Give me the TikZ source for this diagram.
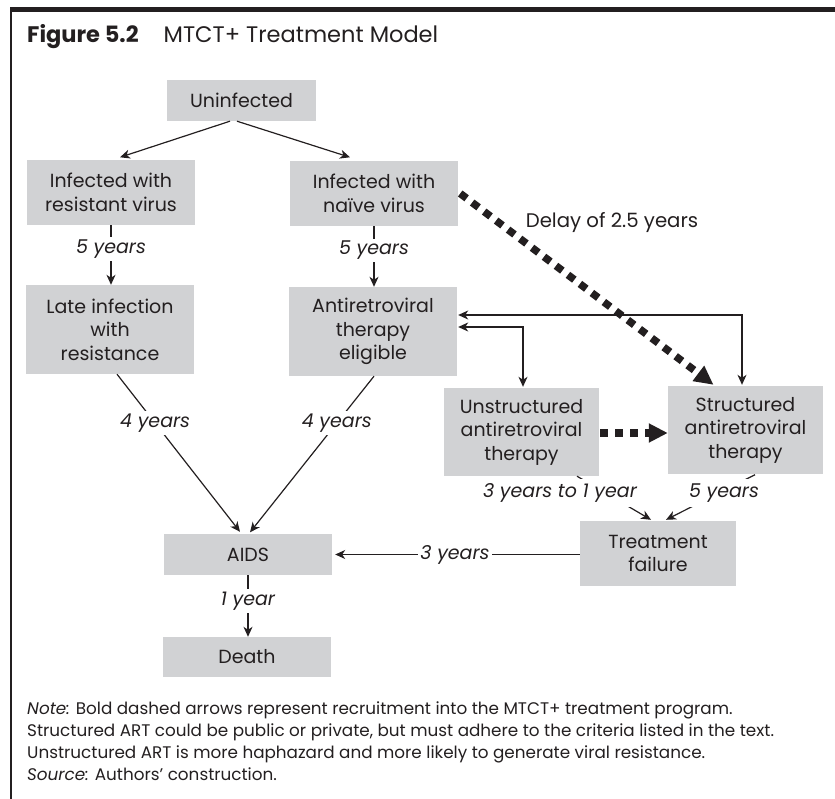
\documentclass[tikz,border=0pt]{standalone}
\usepackage{fontspec}
\setmainfont{Poppins}
\usetikzlibrary{arrows.meta,calc}
\definecolor{boxgray}{HTML}{D1D2D4}
\definecolor{ink}{HTML}{231F20}
\begin{document}
\begin{tikzpicture}[x=1pt,y=-1pt,
  box/.style={fill=boxgray, inner sep=0pt, align=center, text=ink,
    font=\fontsize{19}{23.5}\selectfont},
  arr/.style={draw=ink, line width=1.2pt, -{Stealth[length=10pt,width=9pt,inset=3pt]}},
  biarr/.style={draw=ink, line width=1.2pt, {Stealth[length=10pt,width=9pt,inset=3pt]}-{Stealth[length=10pt,width=9pt,inset=3pt]}},
  lbl/.style={fill=white, inner sep=2.5pt, text=ink, font=\fontsize{19}{21}\selectfont\itshape},
  bolddash/.style={draw=ink, line width=7.5pt, dash pattern=on 8pt off 7pt,
    -{Triangle[length=19pt,width=18pt]}},
  notetext/.style={anchor=base west, inner sep=0pt, text=ink, font=\fontsize{16.8}{22}\selectfont}
]
\useasboundingbox (0,0) rectangle (835,799);
% frame
\fill[ink] (10,7) rectangle (835,12.5);
\draw[ink, line width=1.3pt] (11,12) -- (11,799);
% title
\node[anchor=base west, inner sep=0pt, text=ink, font=\fontsize{22.5}{25}\selectfont] (title) at (27,43)
  {\textbf{Figure 5.2}\hspace{25pt}MTCT+ Treatment Model};
% boxes
\node[box, minimum width=149pt, minimum height=41pt] (unin) at (241.5,100.5) {Uninfected};
\node[box, minimum width=168pt, minimum height=65pt] (res) at (111,192.5) {Infected with\\resistant virus};
\node[box, minimum width=168pt, minimum height=65pt] (naive) at (374,193.5) {Infected with\\naïve virus};
\node[box, minimum width=168pt, minimum height=89pt] (late) at (110,329.5) {Late infection\\with\\resistance};
\node[box, minimum width=168pt, minimum height=89pt] (elig) at (373,331.5) {Antiretroviral\\therapy\\eligible};
\node[box, minimum width=155pt, minimum height=88pt] (unst) at (521.5,432) {Unstructured\\antiretroviral\\therapy};
\node[box, minimum width=155pt, minimum height=88pt] (stru) at (745.5,430) {Structured\\antiretroviral\\therapy};
\node[box, minimum width=156pt, minimum height=65pt] (fail) at (658,553.5) {Treatment\\failure};
\node[box, minimum width=168pt, minimum height=41pt] (aids) at (248,554.5) {AIDS};
\node[box, minimum width=168pt, minimum height=40pt] (death) at (247,657) {Death};
% connectors
\draw[arr] ($(unin.south)+(-11.5,0)$) -- ($(res.north)+(9,-2.5)$);
\draw[arr] ($(unin.south)+(-4.5,0)$) -- ($(naive.north)+(-24,-3.5)$);
\draw[arr] (res.south) -- (res.south |- late.north) node[lbl, pos=0.4] {5 years};
\draw[arr] (naive.south) -- (naive.south |- elig.north) node[lbl, pos=0.4] {5 years};
\draw[arr] ($(late.south)+(7,0)$) -- ($(aids.north)+(-8,-2)$) node[lbl, pos=0.31] {4 years};
\draw[arr] ($(elig.south)+(1,0)$) -- ($(aids.north)+(2,-1.5)$) node[lbl, pos=0.3] {4 years};
\draw[arr] (fail.west |- aids.east) -- ($(aids.east)+(3,0)$);
\node[lbl] (l3) at (455,555) {3 years};
\draw[arr] (aids.south) -- (aids.south |- death.north) node[lbl, pos=0.42] {1 year};
\draw[arr] ($(unst.south)+(55.5,0)$) -- ($(fail.north)+(-7,-1)$);
\node[lbl, inner ysep=5pt, inner xsep=4pt] (l31) at (560,493) {3 years to 1 year};
\draw[arr] ($(stru.south)+(9.5,0.5)$) -- ($(fail.north)+(8,-1)$);
\node[lbl, inner ysep=5pt] (l5) at (724,493) {5 years};
\draw[biarr] ($(elig.east)+(1,-16.5)$) -| ($(stru.north)+(-3.5,-1)$);
\draw[biarr] ($(elig.east)+(1,-4.5)$) -| ($(unst.north)+(1.5,-1)$);
\draw[bolddash] ($(naive.east)+(2,0)$) -- ($(stru.north)+(-32,-1)$);
\draw[bolddash] ($(unst.east)+(1,1)$) -- ($(stru.west |- unst.east)+(0,1)$);
\node[inner sep=0pt, text=ink, font=\fontsize{19.7}{22}\selectfont] (delay) at (612,223) {Delay of 2.5 years};
% note
\node[notetext] (n1) at (27,714) {\textit{Note:} Bold dashed arrows represent recruitment into the MTCT+ treatment program.};
\node[notetext] (n2) at (27,736) {Structured ART could be public or private, but must adhere to the criteria listed in the text.};
\node[notetext] (n3) at (27,758) {Unstructured ART is more haphazard and more likely to generate viral resistance.};
\node[notetext] (n4) at (27,780) {\textit{Source:} Authors’ construction.};
\end{tikzpicture}
\end{document}
